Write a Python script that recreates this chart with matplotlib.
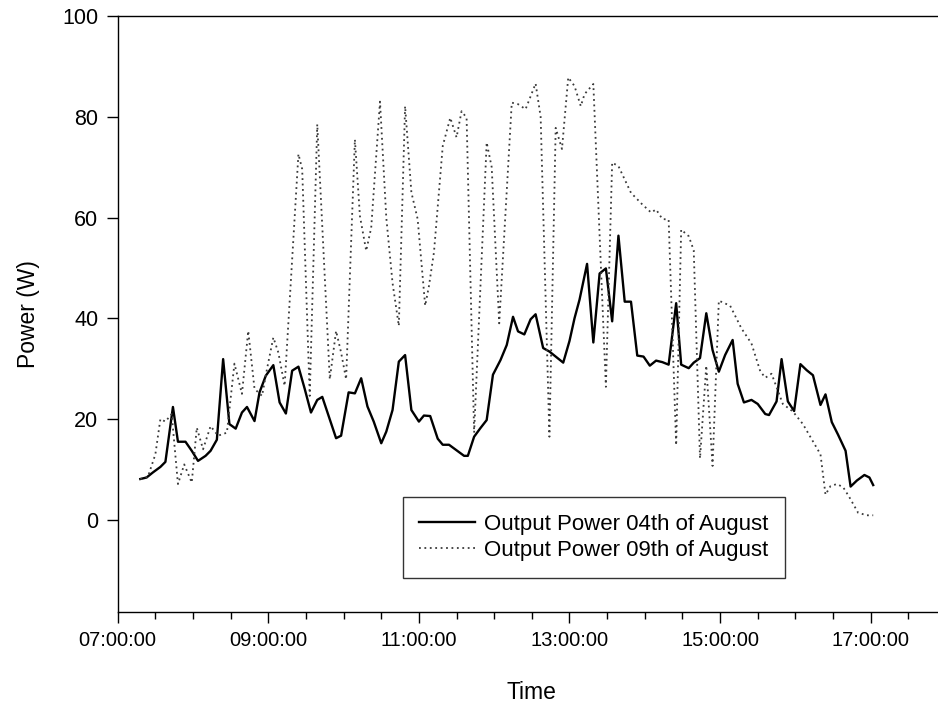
import matplotlib
matplotlib.use("Agg")
import matplotlib.pyplot as plt
from matplotlib.ticker import MultipleLocator

plt.rcParams["font.family"] = ["Liberation Sans", "DejaVu Sans"]

# Output power, 04th of August (solid)
times_aug04 = [
    "07:18", "07:23", "07:28", "07:34", "07:38", "07:44", "07:48", "07:54", "07:59", "08:04",
    "08:10", "08:14", "08:19", "08:24", "08:29", "08:34", "08:39", "08:43", "08:49", "08:53",
    "08:58", "09:04", "09:09", "09:14", "09:19", "09:24", "09:29", "09:34", "09:39", "09:43",
    "09:54", "09:58", "10:04", "10:09", "10:14", "10:19", "10:24", "10:30", "10:34", "10:39",
    "10:44", "10:49", "10:54", "11:00", "11:04", "11:09", "11:15", "11:19", "11:24", "11:30",
    "11:36", "11:39", "11:44", "11:49", "11:54", "11:59", "12:05", "12:10", "12:15", "12:19",
    "12:24", "12:29", "12:33", "12:39", "12:44", "12:49", "12:55", "13:00", "13:04", "13:08",
    "13:14", "13:19", "13:24", "13:29", "13:34", "13:39", "13:44", "13:49", "13:54", "13:59",
    "14:04", "14:09", "14:14", "14:19", "14:25", "14:29", "14:35", "14:39", "14:44", "14:49",
    "14:54", "14:59", "15:04", "15:10", "15:14", "15:19", "15:25", "15:30", "15:36", "15:39",
    "15:45", "15:49", "15:54", "15:59", "16:04", "16:09", "16:14", "16:20", "16:24", "16:29",
    "16:34", "16:40", "16:44", "16:49", "16:55", "16:59", "17:02",
]
power_aug04 = [
    8.1, 8.4, 9.4, 10.5, 11.5, 22.4, 15.5, 15.5, 13.7, 11.7,
    12.7, 13.7, 15.9, 31.9, 19.0, 18.1, 21.3, 22.4, 19.6, 25.3,
    28.6, 30.7, 23.3, 21.1, 29.6, 30.4, 26.0, 21.3, 23.8, 24.4,
    16.2, 16.7, 25.3, 25.1, 28.1, 22.5, 19.5, 15.2, 17.5, 21.8,
    31.4, 32.7, 21.8, 19.5, 20.7, 20.6, 16.1, 14.9, 14.9, 13.8,
    12.7, 12.7, 16.5, 18.2, 19.8, 28.8, 31.7, 34.7, 40.3, 37.4,
    36.8, 39.8, 40.8, 34.1, 33.4, 32.4, 31.2, 35.5, 40.0, 43.7,
    50.8, 35.2, 48.9, 49.9, 39.4, 56.4, 43.3, 43.3, 32.6, 32.4,
    30.6, 31.6, 31.3, 30.8, 43.0, 30.8, 30.1, 31.2, 32.1, 41.0,
    33.7, 29.4, 32.7, 35.7, 27.0, 23.3, 23.8, 23.0, 21.0, 20.8,
    23.5, 31.9, 23.5, 21.6, 30.9, 29.7, 28.7, 22.8, 24.9, 19.4,
    16.9, 13.7, 6.6, 7.8, 8.9, 8.4, 6.9,
]

# Output power, 09th of August (dotted)
times_aug09 = [
    "07:18", "07:24", "07:30", "07:34", "07:38", "07:43", "07:48", "07:53", "07:59", "08:03",
    "08:08", "08:14", "08:20", "08:27", "08:33", "08:39", "08:44", "08:49", "08:55", "08:59",
    "09:04", "09:08", "09:13", "09:24", "09:27", "09:33", "09:39", "09:49", "09:54", "09:58",
    "10:02", "10:09", "10:13", "10:18", "10:22", "10:29", "10:34", "10:39", "10:44", "10:49",
    "10:54", "10:59", "11:05", "11:08", "11:12", "11:19", "11:25", "11:30", "11:34", "11:38",
    "11:44", "11:54", "11:58", "12:04", "12:14", "12:19", "12:25", "12:33", "12:37", "12:44",
    "12:49", "12:54", "12:59", "13:04", "13:09", "13:12", "13:19", "13:29", "13:34", "13:39",
    "13:49", "13:58", "14:05", "14:09", "14:14", "14:19", "14:25", "14:29", "14:35", "14:39",
    "14:44", "14:49", "14:54", "14:59", "15:08", "15:17", "15:25", "15:32", "15:36", "15:41",
    "15:50", "15:58", "16:06", "16:13", "16:20", "16:24", "16:28", "16:33", "16:38", "16:43",
    "16:50", "16:57", "17:02",
]
power_aug09 = [
    8.1, 8.5, 13.0, 20.0, 19.5, 21.0, 7.1, 11.0, 7.4, 18.3,
    14.0, 18.6, 16.7, 17.3, 31.0, 25.0, 37.5, 26.0, 24.6, 30.0,
    36.2, 33.2, 26.6, 72.6, 69.6, 24.6, 78.5, 27.9, 37.5, 33.2,
    27.9, 75.5, 60.3, 53.4, 58.0, 83.0, 60.0, 47.0, 38.5, 82.1,
    65.0, 59.7, 42.5, 46.4, 53.1, 74.2, 79.8, 75.9, 81.1, 79.8,
    17.3, 74.9, 70.0, 39.0, 82.8, 82.5, 81.5, 86.6, 80.0, 16.5,
    77.8, 73.6, 87.8, 86.1, 82.1, 84.5, 86.5, 26.4, 70.9, 70.2,
    64.9, 62.6, 61.0, 61.6, 59.7, 59.6, 14.8, 57.6, 56.3, 53.5,
    12.2, 30.6, 10.7, 43.5, 42.5, 38.0, 35.0, 29.5, 28.2, 29.0,
    23.0, 21.5, 19.0, 16.0, 13.0, 5.0, 6.7, 7.1, 6.5, 4.5,
    1.4, 0.9, 0.9,
]

xtick_hours = [7, 9, 11, 13, 15, 17]
xtick_labels = ["07:00:00", "09:00:00", "11:00:00", "13:00:00", "15:00:00", "17:00:00"]
ytick_values = [0, 20, 40, 60, 80, 100]


def to_hours(stamps):
    out = []
    for s in stamps:
        h, m = s.split(":")
        out.append(int(h) + int(m) / 60.0)
    return out


fig = plt.figure(figsize=(9.38, 7.11), dpi=100)
ax = fig.add_axes([0.1255, 0.1392, 0.883, 0.8383])

ax.plot(to_hours(times_aug04), power_aug04, color="black", lw=1.7,
        label="Output Power 04th of August")
ax.plot(to_hours(times_aug09), power_aug09, color="#3a3a3a", lw=1.3,
        linestyle=(0, (1, 2)), label="Output Power 09th of August")

ax.set_xlim(7, 18)
ax.set_ylim(-18.3, 100)
ax.set_xticks(xtick_hours)
ax.set_xticklabels(xtick_labels)
ax.xaxis.set_minor_locator(MultipleLocator(0.5))
ax.set_yticks(ytick_values)

ax.tick_params(axis="both", which="major", direction="out", length=8, width=1,
               labelsize=14.5, pad=6)
ax.tick_params(axis="x", which="minor", direction="out", length=5, width=1)
ax.tick_params(axis="y", labelsize=15.5)

for sp in ax.spines.values():
    sp.set_linewidth(1.0)

ax.set_xlabel("Time", fontsize=16.5, labelpad=22)
ax.set_ylabel("Power (W)", fontsize=16.5, labelpad=16)

leg = ax.legend(loc="upper left", bbox_to_anchor=(0.344, 0.193), borderaxespad=0,
                fontsize=16, frameon=True, fancybox=False, handlelength=2.5,
                handletextpad=0.4, labelspacing=0.25, borderpad=0.75,
                edgecolor="black")
leg.get_frame().set_linewidth(1.0)

fig.savefig("out.png", dpi=100)
